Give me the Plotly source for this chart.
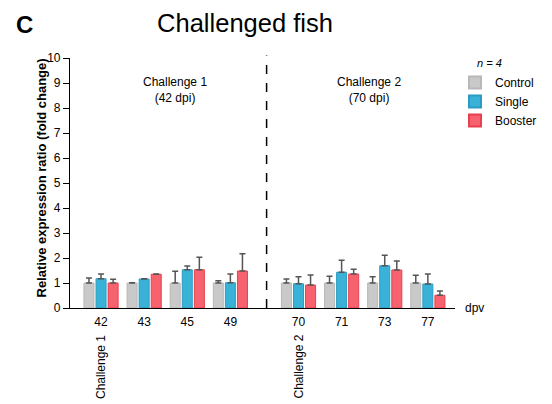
import plotly.graph_objects as go

dpv = ["42", "43", "45", "49", "70", "71", "73", "77"]
control = [1.0, 1.0, 1.0, 1.0, 1.0, 1.0, 1.0, 1.0]
control_err_top = [1.2, 1.01, 1.47, 1.09, 1.16, 1.27, 1.25, 1.31]
single = [1.17, 1.16, 1.53, 1.01, 0.97, 1.43, 1.69, 0.96]
single_err_top = [1.36, 1.17, 1.68, 1.36, 1.25, 1.91, 2.11, 1.36]
booster = [1.0, 1.35, 1.53, 1.48, 0.92, 1.36, 1.52, 0.51]
booster_err_top = [1.15, 1.36, 2.03, 2.17, 1.32, 1.55, 1.88, 0.68]

# group positions: second challenge block shifted right by a gap
gap = 0.58
xpos = [i if i < 4 else i + gap for i in range(len(dpv))]

series = [
    ("Control", control, control_err_top, "#c9c9c9", "#b8b8b8"),
    ("Single", single, single_err_top, "#3ab2d8", "#2a9cc4"),
    ("Booster", booster, booster_err_top, "#f7626f", "#ea3f4e"),
]

OFF = 8  # page body margin offset compensation
W, H = 552, 404

fig = go.Figure()
for name, vals, tops, fill, edge in series:
    fig.add_trace(go.Bar(
        x=xpos, y=vals, name=name,
        marker=dict(color=fill, line=dict(color=edge, width=1)),
        error_y=dict(type="data", symmetric=False,
                     array=[t - v for t, v in zip(tops, vals)],
                     arrayminus=[0] * len(vals),
                     color="#555555", thickness=1.5, width=3),
    ))

fig.add_shape(type="line", xref="x", yref="paper", x0=3.84, x1=3.84, y0=0, y1=1.01,
              line=dict(color="black", width=1.5, dash="dash"))

font = "Arial, Liberation Sans, sans-serif"
ann = [
    dict(x=1.71, y=0.872, xref="x", yref="paper", text="Challenge 1<br>(42 dpi)", yanchor="middle",
         font=dict(size=12)),
    dict(x=6.22, y=0.872, xref="x", yref="paper", text="Challenge 2<br>(70 dpi)", yanchor="middle",
         font=dict(size=12)),
    dict(x=xpos[0], y=-0.236, xref="x", yref="paper", text="Challenge 1", textangle=-90,
         yanchor="middle", xanchor="center", font=dict(size=12)),
    dict(x=xpos[4], y=-0.236, xref="x", yref="paper", text="Challenge 2", textangle=-90,
         yanchor="middle", xanchor="center", font=dict(size=12)),
    dict(x=1.02, y=0.0, xref="paper", yref="paper", text="dpv", xanchor="left", yanchor="middle",
         font=dict(size=12)),
    dict(x=(24 - 70) / 385, y=(308 - 24) / 250, xref="paper", yref="paper", text="<b>C</b>",
         xanchor="center", yanchor="middle", font=dict(size=24)),
    dict(x=(475 - 70) / 385, y=(308 - 63) / 250, xref="paper", yref="paper", text="<i>n = 4</i>",
         xanchor="left", yanchor="middle", font=dict(size=11)),
    dict(x=(41 - 70) / 385, y=(308 - 178.5) / 250, xref="paper", yref="paper",
         text="<b>Relative expression ratio (fold change)</b>", textangle=-90,
         xanchor="center", yanchor="middle", font=dict(size=13)),
]
for a in ann:
    a.setdefault("showarrow", False)
fig.update_layout(annotations=ann)

fig.update_layout(
    width=W, height=H,
    margin=dict(l=70 - OFF, r=W - (455 - OFF), t=58 - OFF, b=H - (308 - OFF), autoexpand=False),
    paper_bgcolor="white", plot_bgcolor="white",
    font=dict(family=font, size=12, color="black"),
    title=dict(text="Challenged fish", x=(245 - OFF) / W, xanchor="center", y=1 - (23 - OFF) / H,
               yanchor="middle", font=dict(size=25.5)),
    barmode="group", bargap=0.16, bargroupgap=0.17,
    showlegend=True,
    legend=dict(x=(455 - 70) / 385, y=(308 - 68) / 250, xanchor="left", yanchor="top",
                font=dict(size=12), tracegroupgap=0, itemsizing="constant"),
)
fig.update_xaxes(range=[-0.72, 8.21], tickvals=xpos, ticktext=dpv, showline=True, linecolor="black",
                 linewidth=1.2, ticks="", showgrid=False, zeroline=False, tickfont=dict(size=12),
                 ticklabelstandoff=2)
fig.update_yaxes(range=[0, 10], dtick=1, showline=True, linecolor="black", linewidth=1.2, ticks="outside",
                 ticklen=6, tickcolor="black", showgrid=False, zeroline=False)

fig.write_html("out.html")
